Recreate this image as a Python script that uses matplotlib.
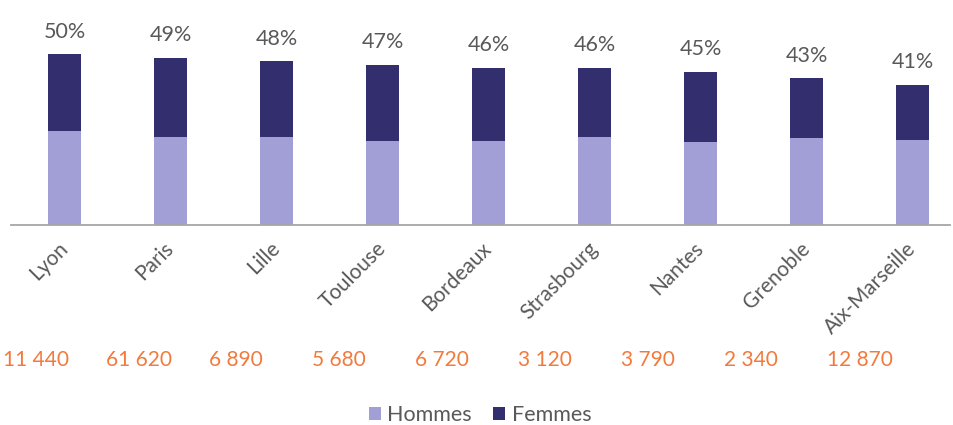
import matplotlib.pyplot as plt
import numpy as np

# ---------------------------------------------------------------------------
# Data
# ---------------------------------------------------------------------------
cities = ["Lyon", "Paris", "Lille", "Toulouse", "Bordeaux",
          "Strasbourg", "Nantes", "Grenoble", "Aix-Marseille"]
hommes = [27.6, 25.8, 25.8, 24.7, 24.6, 25.8, 24.3, 25.5, 25.0]
femmes = [22.4, 23.2, 22.2, 22.3, 21.4, 20.2, 20.7, 17.5, 16.0]
totals_pct = [50, 49, 48, 47, 46, 46, 45, 43, 41]
effectifs = [11440, 61620, 6890, 5680, 6720, 3120, 3790, 2340, 12870]

# ---------------------------------------------------------------------------
# Style
# ---------------------------------------------------------------------------
plt.rcParams["font.family"] = ["Lato", "DejaVu Sans"]
C_HOMMES = "#A29FD6"
C_FEMMES = "#332E6E"
C_TEXT = "#595959"
C_ORANGE = "#F27A3D"

W, H = 954, 425
fig = plt.figure(figsize=(W / 100, H / 100), dpi=100)

# axes placed in pixel terms: baseline at y=224.5px, 106 px per category
base_y = 224.5
px_per_pct = 3.4
step = 106.0
left_px, right_px = 11.5, 950
ax = fig.add_axes([left_px / W, (H - base_y) / H,
                   (right_px - left_px) / W, base_y / H])

x = np.arange(len(cities))
ax.bar(x, hommes, width=0.31, color=C_HOMMES, label="Hommes")
ax.bar(x, femmes, width=0.31, bottom=hommes, color=C_FEMMES, label="Femmes")

ax.set_xlim(-0.5, -0.5 + (right_px - left_px) / step)
ax.set_ylim(0, base_y / px_per_pct)

for xi, h, f, p in zip(x, hommes, femmes, totals_pct):
    ax.annotate(f"{p}%", (xi, h + f), xytext=(0, 12), textcoords="offset points",
                ha="center", va="baseline", fontsize=15.5, color=C_TEXT)

for side in ["top", "right", "left"]:
    ax.spines[side].set_visible(False)
ax.spines["bottom"].set_color("#A6A6A6")
ax.spines["bottom"].set_linewidth(1.3)
ax.set_yticks([])
ax.set_xticks(x)
ax.set_xticklabels(cities, rotation=45, ha="right", va="center",
                   rotation_mode="anchor", fontsize=15, color=C_TEXT)
ax.tick_params(axis="x", length=0, pad=15)

# row of headcounts under the chart
for i, n in enumerate(effectifs):
    label = f"{n:,}".replace(",", " ")
    fig.text((3 + 103 * i) / W, 1 - 360 / H, label, ha="left", va="center",
             fontsize=15, color=C_ORANGE)

handles, labels = ax.get_legend_handles_labels()
fig.legend(handles, labels, loc="center", bbox_to_anchor=(480 / W, 1 - 415 / H),
           ncol=2, frameon=False, fontsize=15.5, labelcolor=C_TEXT,
           handlelength=0.55, handleheight=0.55, handletextpad=0.3,
           columnspacing=1.0, borderpad=0.2)

fig.savefig("out.png", dpi=100)
